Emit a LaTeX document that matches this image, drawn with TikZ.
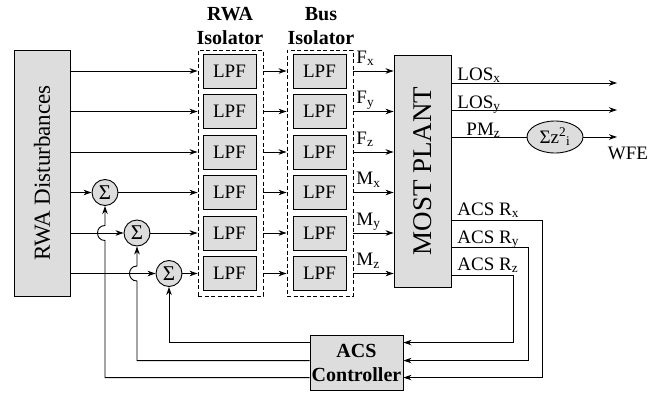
\documentclass[tikz,border=0pt]{standalone}
\usepackage{fontspec}
\setmainfont{Liberation Serif}
\usetikzlibrary{arrows.meta,shapes.geometric,calc}
\definecolor{boxgray}{RGB}{221,221,221}
\begin{document}
\begin{tikzpicture}[x=1pt,y=-1pt, line width=0.9pt,
  >={Stealth[length=8pt,width=5.5pt]},
  blk/.style={draw, fill=boxgray, inner sep=0pt},
  lpf/.style={blk, minimum width=53pt, minimum height=34pt, font=\fontsize{19}{19}\selectfont},
  iso/.style={draw, dash pattern=on 4pt off 2.5pt, inner sep=0pt},
  sig/.style={draw, fill=boxgray, circle, minimum size=26pt, inner sep=0pt, font=\fontsize{21}{21}\selectfont},
  lbl/.style={font=\fontsize{19}{19}\selectfont, inner sep=0pt, anchor=base west},
  hdr/.style={font=\bfseries\fontsize{20}{24}\selectfont, align=center, inner sep=0pt}
]
\useasboundingbox (0,0) rectangle (649,394);

% main blocks
\node[blk, rotate=90, minimum width=246pt, minimum height=56pt, font=\fontsize{23}{23}\selectfont] (rwa) at (42,173) {RWA Disturbances};
\node[blk, rotate=90, minimum width=232pt, minimum height=57pt, font=\fontsize{27}{27}\selectfont] (most) at (422.5,171) {MOST PLANT};
\node[blk, minimum width=93pt, minimum height=55pt, align=center, font=\bfseries\fontsize{20}{24}\selectfont] (ctrl) at (356.5,362.5) {ACS\\Controller};

% isolators
\node[iso, minimum width=65pt, minimum height=246pt] (riso) at (230.5,173) {};
\node[iso, minimum width=66pt, minimum height=246pt] (biso) at (320,173) {};
\node[hdr] (rhdr) at (230,26) {RWA\\Isolator};
\node[hdr] (bhdr) at (321,26) {Bus\\Isolator};

\foreach \i/\y in {1/71,2/111.5,3/152,4/192.5,5/233,6/273.5} {
  \node[lpf] (a\i) at (229.5,\y) {LPF};
  \node[lpf] (b\i) at (319.5,\y) {LPF};
  \draw[->] (riso.east |- a\i) -- (biso.west |- b\i);
  \draw[->] (biso.east |- b\i) -- (most.north |- b\i);
}
\foreach \i in {1,2,3} {
  \draw[->] (rwa.south |- a\i) -- (riso.west |- a\i);
}

% summing junctions
\node[sig] (s1) at (105,192.5) {Σ};
\node[sig] (s2) at (137,233) {Σ};
\node[sig] (s3) at (169,273.5) {Σ};
\draw[->] (rwa.south |- s1) -- (s1);
\draw[->] (rwa.south |- s2) -- (s2);
\draw[->] (rwa.south |- s3) -- (s3);
\draw[->] (s1) -- (riso.west |- s1);
\draw[->] (s2) -- (riso.west |- s2);
\draw[->] (s3) -- (riso.west |- s3);

% feedback from controller to sums
\coordinate (h1) at (s1 |- s2);
\coordinate (h2) at (s2 |- s3);
\draw[->] ($(ctrl.north west)+(0,8)$) -| (s3.south);
\draw[->] ($(ctrl.north west)+(0,26)$) -| ($(h2)+(0,7.5)$)
   .. controls +(-10,0) and +(-10,0) .. ($(h2)+(0,-7.5)$) -- (s2.south);
\draw[->] ($(ctrl.north west)+(0,43)$) -| ($(h1)+(0,7.5)$)
   .. controls +(-10,0) and +(-10,0) .. ($(h1)+(0,-7.5)$) -- (s1.south);

% ACS sensor outputs back to controller
\draw[->] ($(most.south west)+(0,-67)$) -| ($(ctrl.north east)+(139,43)$) -- ($(ctrl.north east)+(0,43)$);
\draw[->] ($(most.south west)+(0,-40)$) -| ($(ctrl.north east)+(125,26)$) -- ($(ctrl.north east)+(0,26)$);
\draw[->] ($(most.south west)+(0,-12)$) -| ($(ctrl.north east)+(110,8)$) -- ($(ctrl.north east)+(0,8)$);

% performance outputs
\coordinate (losx) at (617,83);
\coordinate (losy) at (617,110);
\coordinate (wfe) at (617,137);
\node[draw, fill=boxgray, ellipse, minimum width=56pt, minimum height=32pt, inner sep=0pt, font=\fontsize{19}{19}\selectfont] (e) at (555,137) {Σz\textsuperscript{2}\textsubscript{i}};
\draw[->] (most.south |- losx) -- (losx);
\draw[->] (most.south |- losy) -- (losy);
\draw (most.south |- wfe) -- (e.west);
\draw[->] (e.east) -- (wfe);

% labels
\node[lbl] (lfx) at (356,63) {F\textsubscript{x}};
\node[lbl] (lfy) at (356,103.5) {F\textsubscript{y}};
\node[lbl] (lfz) at (356,144) {F\textsubscript{z}};
\node[lbl] (lmx) at (356,184.5) {M\textsubscript{x}};
\node[lbl] (lmy) at (356,225) {M\textsubscript{y}};
\node[lbl] (lmz) at (356,265.5) {M\textsubscript{z}};
\node[lbl] (llx) at (457,80) {LOS\textsubscript{x}};
\node[lbl] (lly) at (457,108) {LOS\textsubscript{y}};
\node[lbl] (lpm) at (466,135) {PM\textsubscript{z}};
\node[lbl] (lrx) at (457,215) {ACS R\textsubscript{x}};
\node[lbl] (lry) at (457,243) {ACS R\textsubscript{y}};
\node[lbl] (lrz) at (457,270) {ACS R\textsubscript{z}};
\node[font=\fontsize{19}{19}\selectfont, inner sep=0pt] (lwfe) at (628,153) {WFE};
\end{tikzpicture}
\end{document}
